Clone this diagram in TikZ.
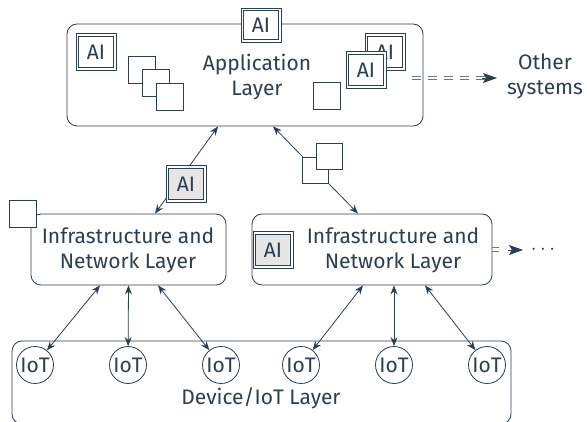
\documentclass[tikz,border=0pt]{standalone}
\usepackage{fontspec}
\setmainfont{Fira Sans}
\usetikzlibrary{arrows.meta,calc}
\definecolor{ink}{HTML}{2C3E50}
\definecolor{aigray}{HTML}{E6E6E6}
\begin{document}
\begin{tikzpicture}[x=1pt,y=-1pt,
  every node/.style={text=ink},
  font=\fontsize{21}{25}\selectfont,
  layer/.style={draw=ink, line width=0.8pt, rounded corners=10pt, fill=white, inner sep=0pt},
  aibox/.style={draw=ink, line width=0.8pt, fill=white,
                minimum width=40pt, minimum height=37pt, inner sep=0pt,
                path picture={\draw[ink, line width=0.8pt]
                  ($(path picture bounding box.south west)+(2.6pt,2.6pt)$) rectangle
                  ($(path picture bounding box.north east)+(-2.6pt,-2.6pt)$);}},
  aigbox/.style={aibox, fill=white,
                path picture={\fill[aigray]
                  ($(path picture bounding box.south west)+(2.6pt,2.6pt)$) rectangle
                  ($(path picture bounding box.north east)+(-2.6pt,-2.6pt)$);
                  \draw[ink, line width=0.8pt]
                  ($(path picture bounding box.south west)+(2.6pt,2.6pt)$) rectangle
                  ($(path picture bounding box.north east)+(-2.6pt,-2.6pt)$);}},
  sqbox/.style={draw=ink, line width=0.8pt, fill=white, minimum size=27pt, inner sep=0pt},
  iot/.style={circle, draw=ink, line width=0.8pt, minimum size=37pt, inner sep=0pt},
  con/.style={draw=ink, line width=0.8pt, {Stealth[length=9pt,width=7pt]}-{Stealth[length=9pt,width=7pt]}},
  dashline/.style={draw=ink!70, line width=0.8pt, dash pattern=on 9pt off 7pt},
  bigtip/.style={draw=ink, line width=0.8pt, -{Stealth[length=14pt,width=10pt,inset=3pt]}}
]
\useasboundingbox (0,0) rectangle (587,422);

% big layer boxes
\node[layer, minimum width=356pt, minimum height=102pt] (app) at (245,75) {};
\node[layer, minimum width=195pt, minimum height=71pt] (infraL) at (128.5,249.5) {};
\node[layer, minimum width=240pt, minimum height=71pt] (infraR) at (372,249.5) {};
\node[layer, minimum width=499pt, minimum height=83pt] (dev) at (261.5,382.5) {};

% texts
\node[align=center] (apptxt) at (257,77) {Application\\Layer};
\node[align=center] (infraLtxt) at (128,250) {Infrastructure and\\Network Layer};
\node[align=center] (infraRtxt) at (393,250) {Infrastructure and\\Network Layer};
\node (devtxt) at (261,398) {Device/IoT Layer};
\node[align=center] (other) at (545,76) {Other\\systems};
\node (dots) at (543,250) {$\cdots$};

% IoT nodes
\node[iot] (iot1) at (35,365) {IoT};
\node[iot] (iot2) at (128,365) {IoT};
\node[iot] (iot3) at (221,365) {IoT};
\node[iot] (iot4) at (301,365) {IoT};
\node[iot] (iot5) at (394,365) {IoT};
\node[iot] (iot6) at (487,365) {IoT};

% connection points
\coordinate (a1) at ($(app.south)+(-27,0)$);
\coordinate (a2) at ($(app.south)+(28,0)$);
\coordinate (cL) at ($(infraL.north)+(26.5,0)$);
\coordinate (cR) at ($(infraR.north)+(-14,0)$);
\coordinate (bL1) at ($(infraL.south)+(-28.5,0)$);
\coordinate (bL2) at ($(infraL.south)+(0,0)$);
\coordinate (bL3) at ($(infraL.south)+(29.5,0)$);
\coordinate (bR1) at ($(infraR.south)+(-9,0)$);
\coordinate (bR2) at ($(infraR.south)+(22,0)$);
\coordinate (bR3) at ($(infraR.south)+(53,0)$);

% connectors
\draw[con] (cL) -- (a1);
\draw[con] (cR) -- (a2);
\draw[con] (bL1) -- (iot1);
\draw[con] (bL2) -- (iot2);
\draw[con] (bL3) -- (iot3);
\draw[con] (bR1) -- (iot4);
\draw[con] (bR2) -- (iot5);
\draw[con] (bR3) -- (iot6);

% dashed double arrows
\coordinate (o1) at (412,78);
\coordinate (o2) at (497,78);
\draw[dashline] ($(o1)+(0,-1.6)$) -- ($(o2)+(-12,-1.6)$);
\draw[dashline] ($(o1)+(0,1.6)$) -- ($(o2)+(-12,1.6)$);
\draw[bigtip] ($(o2)+(-15,0)$) -- (o2);
\coordinate (r2) at (523,250);
\draw[dashline] ($(infraR.east)+(0,-1.6)$) -- ++(7,0);
\draw[dashline] ($(infraR.east)+(0,1.6)$) -- ++(7,0);
\draw[bigtip] ($(r2)+(-15,0)$) -- (r2);

% small squares and AI boxes
\node[aibox, minimum height=34pt] (aiTop) at (261,25) {AI};
\node[aibox] (aiL) at (96,52) {AI};
\node[sqbox] (sq1) at (142,70) {};
\node[sqbox] (sq2) at (156,83) {};
\node[sqbox] (sq3) at (170,97) {};
\node[sqbox] (sqR) at (327,96) {};
\node[aibox] (aiR1) at (385,52) {AI};
\node[aibox] (aiR2) at (366,70) {AI};
\node[sqbox] (sqL) at (23,214) {};
\node[aigbox] (aiG) at (186,184) {AI};
\node[aigbox] (aiRG) at (273,250) {AI};
\node[sqbox, minimum size=26pt] (sqA) at (315,170) {};
\node[sqbox, minimum size=26pt] (sqB) at (329,156) {};
\end{tikzpicture}
\end{document}
